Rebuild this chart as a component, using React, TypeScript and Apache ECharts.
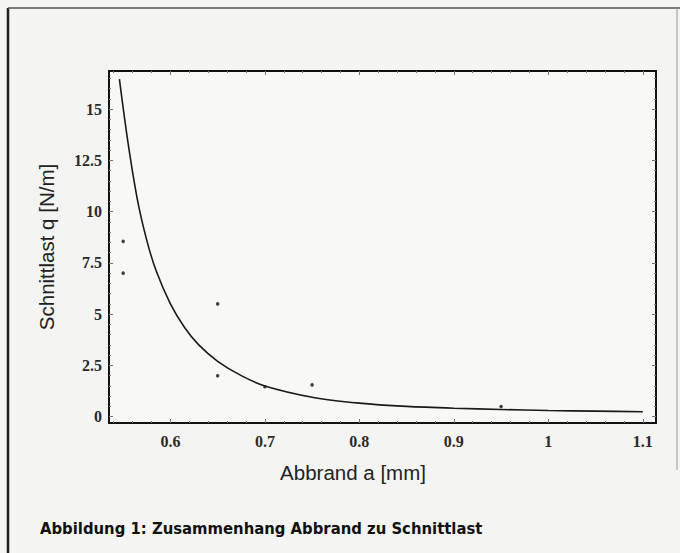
import React, { useEffect, useRef } from "react";
import * as echarts from "echarts";

// Curve (Abbrand a [mm] -> Schnittlast q [N/m])
const curveX = [0.546, 0.555, 0.565, 0.575, 0.585, 0.6, 0.615, 0.63, 0.65, 0.675, 0.7, 0.75, 0.8, 0.85, 0.9, 0.95, 1.0, 1.05, 1.1];
const curveY = [16.46, 13.4, 10.6, 8.6, 7.1, 5.5, 4.35, 3.5, 2.7, 2.0, 1.5, 0.95, 0.66, 0.5, 0.41, 0.35, 0.3, 0.27, 0.24];

// Measured points
const pointX = [0.55, 0.55, 0.65, 0.65, 0.7, 0.75, 0.95];
const pointY = [8.55, 7.0, 5.5, 2.0, 1.46, 1.55, 0.5];

// Tick values
const xMajor = [0.6, 0.7, 0.8, 0.9, 1, 1.1];
const xMinor = [0.54, 0.56, 0.58, 0.62, 0.64, 0.66, 0.68, 0.72, 0.74, 0.76, 0.78, 0.82, 0.84, 0.86, 0.88, 0.92, 0.94, 0.96, 0.98, 1.02, 1.04, 1.06, 1.08];
const yMajor = [0, 2.5, 5, 7.5, 10, 12.5, 15];
const yMinor = [0.5, 1, 1.5, 2, 3, 3.5, 4, 4.5, 5.5, 6, 6.5, 7, 8, 8.5, 9, 9.5, 10.5, 11, 11.5, 12, 13, 13.5, 14, 14.5, 15.5, 16, 16.5];

const xName = "Abbrand a [mm]";
const yName = "Schnittlast q [N/m]";
const caption = "Abbildung 1: Zusammenhang Abbrand zu Schnittlast";

const X_MIN = 0.535;
const X_MAX = 1.114;
const Y_MIN = -0.31;
const Y_MAX = 16.86;

export default function App() {
  const ref = useRef<HTMLDivElement>(null);

  useEffect(() => {
    document.body.style.margin = "0";
    const chart = echarts.init(ref.current!, undefined, { renderer: "svg" });

    const tickFont = {
      fontFamily: "Liberation Serif",
      fontWeight: "bold" as const,
      fontSize: 16,
      color: "#2a2a2a",
    };

    const mkX = (pos: "top" | "bottom", vals: number[], len: number, labels: boolean, line: boolean) => ({
      type: "value" as const,
      position: pos,
      min: X_MIN,
      max: X_MAX,
      axisLine: { show: line, onZero: false, lineStyle: { color: "#111", width: 2 } },
      splitLine: { show: false },
      axisTick: { show: true, inside: true, length: len, customValues: vals, lineStyle: { color: "#777", width: 1 } },
      axisLabel: labels
        ? { show: true, customValues: xMajor, margin: 10, ...tickFont }
        : { show: false },
    });

    const mkY = (pos: "left" | "right", vals: number[], len: number, labels: boolean, line: boolean) => ({
      type: "value" as const,
      position: pos,
      min: Y_MIN,
      max: Y_MAX,
      axisLine: { show: line, onZero: false, lineStyle: { color: "#111", width: 2 } },
      splitLine: { show: false },
      axisTick: { show: true, inside: true, length: len, customValues: vals, lineStyle: { color: "#777", width: 1 } },
      axisLabel: labels
        ? { show: true, customValues: yMajor, margin: 7, ...tickFont }
        : { show: false },
    });

    chart.setOption({
      animation: false,
      backgroundColor: "#f4f4f2",
      grid: { left: 109, right: 24, top: 71, bottom: 130, show: true, backgroundColor: "#f8f8f7", borderWidth: 0 },
      xAxis: [
        mkX("bottom", xMajor, 4, true, true),
        mkX("bottom", xMinor, 2, false, false),
        mkX("top", xMajor, 4, false, true),
        mkX("top", xMinor, 2, false, false),
      ],
      yAxis: [
        mkY("left", yMajor, 4, true, true),
        mkY("left", yMinor, 2, false, false),
        mkY("right", yMajor, 4, false, true),
        mkY("right", yMinor, 2, false, false),
      ],
      series: [
        {
          type: "line",
          xAxisIndex: 0,
          yAxisIndex: 0,
          data: curveX.map((x, i) => [x, curveY[i]]),
          smooth: 0.3,
          showSymbol: false,
          lineStyle: { color: "#1a1a1a", width: 1.6 },
        },
        {
          type: "scatter",
          xAxisIndex: 0,
          yAxisIndex: 0,
          data: pointX.map((x, i) => [x, pointY[i]]),
          symbolSize: 3.5,
          itemStyle: { color: "#111" },
        },
      ],
      graphic: [
        {
          type: "line",
          shape: { x1: 8, y1: 8, x2: 8, y2: 553 },
          style: { stroke: "#222", lineWidth: 2.5 },
        },
        {
          type: "line",
          shape: { x1: 8, y1: 8, x2: 680, y2: 8 },
          style: { stroke: "#555", lineWidth: 1.5 },
        },
        {
          type: "line",
          shape: { x1: 677, y1: 8, x2: 677, y2: 470 },
          style: { stroke: "#999", lineWidth: 1 },
        },
        {
          type: "text",
          x: 353,
          y: 472,
          style: {
            text: xName,
            fontFamily: "Liberation Sans",
            fontSize: 20.5,
            fill: "#222",
            align: "center",
            verticalAlign: "middle",
          },
        },
        {
          type: "text",
          x: 46,
          y: 247,
          rotation: Math.PI / 2,
          style: {
            text: yName,
            fontFamily: "Liberation Sans",
            fontSize: 20.5,
            fill: "#222",
            align: "center",
            verticalAlign: "middle",
          },
        },
        {
          type: "text",
          x: 40,
          y: 528,
          style: {
            text: caption,
            fontFamily: "DejaVu Sans Condensed",
            fontWeight: "bold",
            fontSize: 16.5,
            fill: "#111",
            align: "left",
            verticalAlign: "middle",
          },
        },
      ],
    });

    return () => chart.dispose();
  }, []);

  return <div ref={ref} style={{ position: "absolute", left: 0, top: 0, width: 680, height: 553 }} />;
}
